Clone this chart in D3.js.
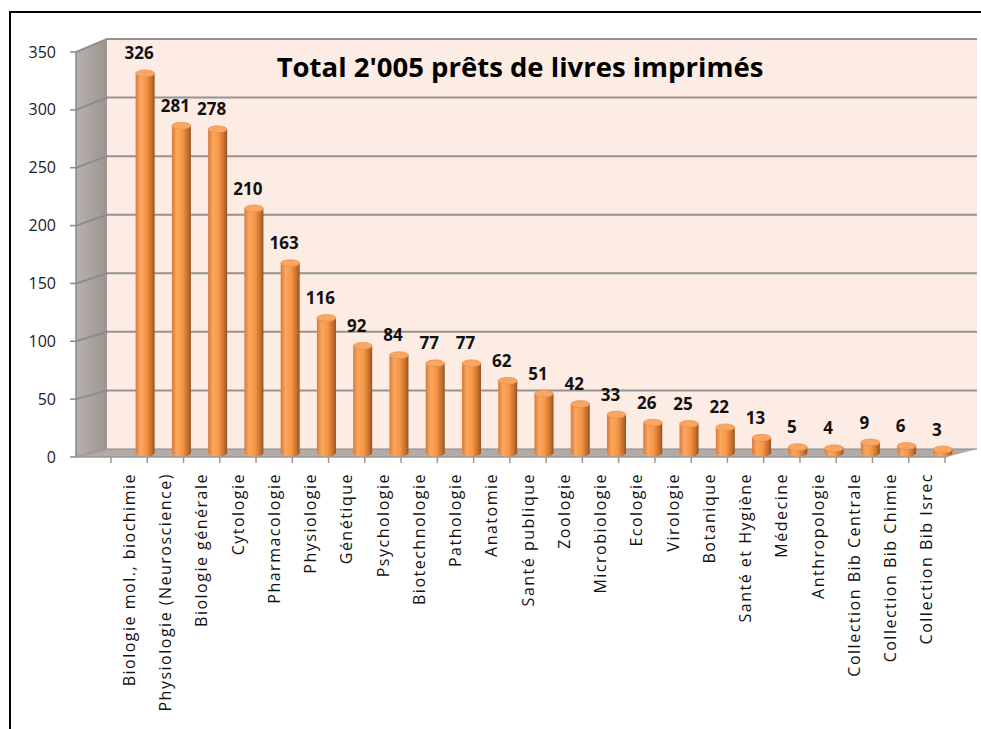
<!DOCTYPE html>
<html>
<head>
<meta charset="utf-8">
<script src="https://cdn.jsdelivr.net/npm/d3@7"></script>
<style>
  body { margin: 0; background: #fff; }
  text { font-family: "Open Sans", Lato, sans-serif; }
</style>
</head>
<body>
<div id="chart"></div>
<script>
// data
var categories = ["Biologie mol., biochimie", "Physiologie (Neuroscience)", "Biologie générale",
    "Cytologie", "Pharmacologie", "Physiologie", "Génétique", "Psychologie", "Biotechnologie",
    "Pathologie", "Anatomie", "Santé publique", "Zoologie", "Microbiologie", "Ecologie",
    "Virologie", "Botanique", "Santé et Hygiène", "Médecine", "Anthropologie",
    "Collection Bib Centrale", "Collection Bib Chimie", "Collection Bib Isrec"];
var loans = [326, 281, 278, 210, 163, 116, 92, 84, 77, 77, 62, 51, 42, 33, 26, 25, 22, 13, 5, 4, 9, 6, 3];
var yTicks = [0, 50, 100, 150, 200, 250, 300, 350];
var title = "Total 2'005 prêts de livres imprimés";

function init() {
    var w = 981, h = 729;
    // depth of the 3d box
    var dx = 31;

    var svg = d3.select("#chart").append("svg")
        .attr("width", w).attr("height", h);

    var defs = svg.append("defs");
    var cyl = defs.append("linearGradient").attr("id", "cyl");
    cyl.append("stop").attr("offset", "0%").attr("stop-color", "#d9783a");
    cyl.append("stop").attr("offset", "25%").attr("stop-color", "#fba860");
    cyl.append("stop").attr("offset", "55%").attr("stop-color", "#f79646");
    cyl.append("stop").attr("offset", "85%").attr("stop-color", "#c46d2c");
    cyl.append("stop").attr("offset", "100%").attr("stop-color", "#8f5420");
    var side = defs.append("linearGradient").attr("id", "side");
    side.append("stop").attr("offset", "0%").attr("stop-color", "#b9b1ad");
    side.append("stop").attr("offset", "100%").attr("stop-color", "#9c9490");

    // front and back value scales (slight perspective)
    var yFront = d3.scaleLinear().domain([0, 350]).range([457, 52]);
    var yBack = d3.scaleLinear().domain([0, 350]).range([449, 39]);
    var yMid = d3.scaleLinear().domain([0, 350]).range([453, 45.5]);

    var x = d3.scaleBand().domain(categories).range([111, 945]);

    // outer frame
    svg.append("path").attr("d", "M10,729 V12 H981")
        .attr("fill", "none").attr("stroke", "#000").attr("stroke-width", 2);

    // back wall
    svg.append("rect")
        .attr("x", 76 + dx).attr("y", yBack(350))
        .attr("width", 977 - 76 - dx).attr("height", yBack(0) - yBack(350))
        .attr("fill", "#fdece4");

    // side wall
    svg.append("polygon")
        .attr("points", [[76, yFront(0)], [76 + dx, yBack(0)], [76 + dx, yBack(350)], [76, yFront(350)]].join(" "))
        .attr("fill", "url(#side)");

    // floor
    svg.append("polygon")
        .attr("points", [[76, yFront(0)], [947, yFront(0)], [977, yBack(0)], [76 + dx, yBack(0)]].join(" "))
        .attr("fill", "#b3aba7");

    // gridlines on back wall and side wall
    var grid = svg.append("g").attr("stroke", "#8a8a8a").attr("stroke-width", 2).attr("fill", "none");
    grid.selectAll("path").data(yTicks).enter().append("path")
        .attr("d", function(d) {
            return "M76," + yFront(d) + " L" + (76 + dx) + "," + yBack(d) + " H977";
        })
        .attr("stroke-opacity", function(d) { return d === 0 ? 0.5 : 0.9; });

    // y axis
    svg.append("line").attr("x1", 76).attr("x2", 76)
        .attr("y1", yFront(350)).attr("y2", yFront(0))
        .attr("stroke", "#888").attr("stroke-width", 1.5);
    svg.append("g").selectAll("line").data(yTicks).enter().append("line")
        .attr("x1", 70).attr("x2", 76)
        .attr("y1", function(d) { return yFront(d); })
        .attr("y2", function(d) { return yFront(d); })
        .attr("stroke", "#888").attr("stroke-width", 1.5);
    svg.append("g").selectAll("text").data(yTicks).enter().append("text")
        .attr("x", 56).attr("y", function(d) { return yFront(d); })
        .attr("dy", "0.35em")
        .attr("text-anchor", "end")
        .attr("font-size", 16)
        .attr("fill", "#1a1a2a")
        .text(function(d) { return d; });

    // x axis along the front of the floor
    svg.append("line").attr("x1", 76).attr("x2", 947)
        .attr("y1", yFront(0)).attr("y2", yFront(0))
        .attr("stroke", "#999").attr("stroke-width", 1.5);
    var edges = categories.map(function(c) { return x(c); }).concat([x.range()[1]]);
    svg.append("g").selectAll("line").data(edges).enter().append("line")
        .attr("x1", function(d) { return d; }).attr("x2", function(d) { return d; })
        .attr("y1", yFront(0)).attr("y2", yFront(0) + 6)
        .attr("stroke", "#999").attr("stroke-width", 1.5);

    svg.append("g").selectAll("text").data(categories).enter().append("text")
        .attr("transform", function(d) {
            return "translate(" + (x(d) + x.bandwidth() / 2) + "," + 473 + ") rotate(-90)";
        })
        .attr("dy", "0.35em")
        .attr("text-anchor", "end")
        .attr("font-size", 16)
        .attr("letter-spacing", 1.5)
        .attr("fill", "#111")
        .text(function(d) { return d; });

    // cylinders
    var r = 9.5, ry = 3.5, shift = 16;
    var bars = svg.append("g").selectAll("g").data(loans).enter().append("g")
        .attr("transform", function(d, i) {
            return "translate(" + (x(categories[i]) + x.bandwidth() / 2 + shift) + ",0)";
        });
    bars.append("path")
        .attr("d", function(d) {
            var top = yMid(d), base = yMid(0);
            return "M" + (-r) + "," + top + " V" + base +
                " A" + r + "," + ry + " 0 0 0 " + r + "," + base +
                " V" + top + " Z";
        })
        .attr("fill", "url(#cyl)");
    bars.append("ellipse")
        .attr("cx", 0).attr("cy", function(d) { return yMid(d); })
        .attr("rx", r).attr("ry", ry)
        .attr("fill", "#f9a662").attr("stroke", "#e08a48").attr("stroke-width", 0.6);

    // value labels
    bars.append("text")
        .attr("x", -6).attr("y", function(d) { return yMid(d) - 14; })
        .attr("text-anchor", "middle")
        .attr("font-size", 17).attr("font-weight", "bold")
        .attr("fill", "#111")
        .text(function(d) { return d; });

    // title
    svg.append("text")
        .attr("x", 520).attr("y", 77)
        .attr("text-anchor", "middle")
        .attr("font-size", 27.5).attr("font-weight", "bold")
        .attr("fill", "#000")
        .text(title);
}

window.onload = init;
</script>
</body>
</html>
